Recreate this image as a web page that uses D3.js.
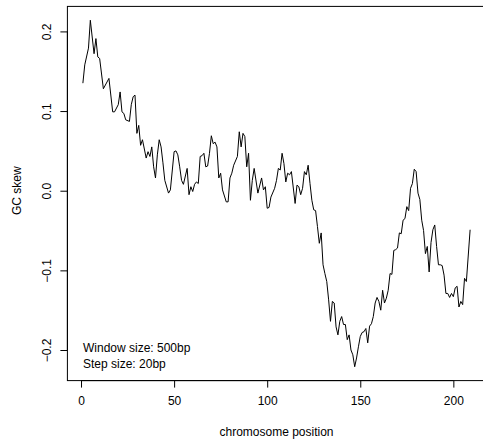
<!DOCTYPE html>
<html>
<head>
<meta charset="utf-8">
<script src="https://cdn.jsdelivr.net/npm/d3@7"></script>
<style>
  body { margin: 0; background: #fff; }
  text { font-family: "Liberation Sans", Arial, sans-serif; fill: #000; }
</style>
</head>
<body>
<svg id="skewSVG" width="483" height="444"></svg>
<script>
// Window positions
var positions = [1, 2, 4, 5, 7, 8, 9, 10, 12, 15, 17, 18, 20, 21, 22, 23, 24, 26, 27, 28,
  29, 30, 31, 32, 33, 35, 36, 37, 38, 39, 40, 41, 42, 43, 44, 45, 47, 48, 50, 51,
  52, 53, 54, 55, 57, 58, 59, 60, 61, 62, 63, 64, 65, 66, 67, 68, 69, 70, 71, 72,
  73, 74, 75, 76, 78, 79, 80, 81, 82, 84, 85, 86, 87, 88, 89, 90, 91, 92, 93, 95,
  97, 98, 99, 100, 101, 102, 104, 105, 106, 107, 108, 109, 110, 111, 112, 113, 115, 116, 117, 118,
  119, 120, 121, 122, 123, 124, 125, 126, 127, 128, 129, 130, 131, 132, 133, 134, 135, 136, 137, 138,
  139, 140, 141, 142, 143, 144, 145, 146, 147, 148, 149, 150, 151, 152, 153, 154, 155, 156, 157, 158,
  159, 160, 161, 162, 163, 164, 165, 166, 167, 168, 169, 170, 171, 172, 173, 174, 175, 176, 177, 178,
  179, 180, 181, 182, 183, 184, 185, 186, 187, 188, 189, 190, 191, 192, 193, 194, 195, 196, 197, 198,
  199, 200, 201, 202, 203, 204, 205, 206, 207, 209];

// GC skew at each position
var skew = [0.135, 0.158, 0.179, 0.214, 0.172, 0.191, 0.168, 0.166, 0.128, 0.141, 0.099, 0.099, 0.108, 0.124, 0.099, 0.097, 0.089, 0.087, 0.108, 0.118,
  0.120, 0.072, 0.082, 0.057, 0.064, 0.041, 0.049, 0.043, 0.055, 0.030, 0.016, 0.045, 0.064, 0.055, 0.035, 0.013, -0.003, 0.001, 0.049, 0.050,
  0.045, 0.030, 0.013, 0.008, 0.028, -0.005, 0.005, -0.001, 0.008, 0.011, 0.009, 0.043, 0.044, 0.047, 0.030, 0.031, 0.047, 0.069, 0.059, 0.061,
  0.055, 0.016, 0.022, 0.001, -0.014, -0.014, 0.016, 0.022, 0.032, 0.043, 0.074, 0.055, 0.072, 0.068, 0.030, 0.047, -0.012, 0.013, 0.028, -0.003,
  0.016, 0.001, 0.005, -0.022, -0.021, -0.008, 0.003, 0.013, 0.028, 0.026, 0.047, 0.034, 0.011, 0.022, 0.020, 0.024, -0.016, 0.007, 0.005, -0.005,
  0.003, 0.024, 0.020, 0.032, 0.009, -0.012, -0.024, -0.025, -0.045, -0.066, -0.053, -0.093, -0.104, -0.114, -0.137, -0.164, -0.139, -0.141, -0.171, -0.181,
  -0.164, -0.158, -0.168, -0.168, -0.187, -0.181, -0.200, -0.206, -0.221, -0.210, -0.196, -0.183, -0.178, -0.177, -0.173, -0.191, -0.170, -0.167, -0.158, -0.141,
  -0.134, -0.139, -0.150, -0.125, -0.141, -0.135, -0.125, -0.104, -0.105, -0.075, -0.074, -0.072, -0.053, -0.054, -0.037, -0.035, -0.020, -0.025, 0.003, 0.009,
  0.027, 0.024, -0.003, -0.011, -0.037, -0.050, -0.079, -0.070, -0.102, -0.065, -0.049, -0.043, -0.070, -0.093, -0.093, -0.094, -0.106, -0.129, -0.129, -0.134,
  -0.129, -0.133, -0.122, -0.120, -0.146, -0.139, -0.143, -0.110, -0.114, -0.049];

var xTicks = [0, 50, 100, 150, 200];
var yTicks = [-0.2, -0.1, 0.0, 0.1, 0.2];
var notes = ["Window size: 500bp", "Step size: 20bp"];

var svg = d3.select("#skewSVG");

// R style 4% padding around the data range
function padded(ext) {
    var r = ext[1] - ext[0];
    return [ext[0] - 0.04 * r, ext[1] + 0.04 * r];
}

var plotLeft = 67.4, plotRight = 485.6, plotTop = 6.4, plotBottom = 380.6;

var x = d3.scaleLinear()
    .domain(padded(d3.extent(positions)))
    .range([plotLeft, plotRight]);

var y = d3.scaleLinear()
    .domain(padded(d3.extent(skew)))
    .range([plotBottom, plotTop]);

// Box
svg.append("rect")
    .attr("x", plotLeft)
    .attr("y", plotTop)
    .attr("width", plotRight - plotLeft)
    .attr("height", plotBottom - plotTop)
    .attr("fill", "none")
    .attr("stroke", "#000")
    .attr("stroke-width", 1);

// X axis
var xAxis = svg.append("g")
    .attr("transform", "translate(0," + plotBottom + ")")
    .call(d3.axisBottom(x).tickValues(xTicks).tickSize(7).tickPadding(9).tickFormat(d3.format("d")));
xAxis.select(".domain").attr("d", "M" + x(xTicks[0]) + ",0H" + x(xTicks[xTicks.length - 1]));
xAxis.selectAll("text").style("font-size", "12px").style("font-family", "Liberation Sans, Arial, sans-serif");

// Y axis with rotated labels
var yAxis = svg.append("g")
    .attr("transform", "translate(" + plotLeft + ",0)")
    .call(d3.axisLeft(y).tickValues(yTicks).tickSize(7).tickFormat(d3.format(".1f")));
yAxis.select(".domain").attr("d", "M0," + y(yTicks[0]) + "V" + y(yTicks[yTicks.length - 1]));
yAxis.selectAll(".tick text")
    .attr("x", null).attr("dy", null)
    .attr("text-anchor", "middle")
    .attr("transform", "translate(-20.7,0) rotate(-90)")
    .attr("dy", "0.35em")
    .style("font-size", "12px")
    .style("font-family", "Liberation Sans, Arial, sans-serif")
    .text(function (d) { return d3.format(".1f")(d).replace("-", "\u2212"); });

// Axis titles
svg.append("text")
    .attr("x", (plotLeft + plotRight) / 2)
    .attr("y", 436)
    .attr("text-anchor", "middle")
    .style("font-size", "12px")
    .text("chromosome position");

svg.append("text")
    .attr("transform", "translate(21," + y(0) + ") rotate(-90)")
    .attr("text-anchor", "middle")
    .style("font-size", "12px")
    .text("GC skew");

// The skew line
var line = d3.line()
    .x(function (d, i) { return x(positions[i]); })
    .y(function (d) { return y(d); });

svg.append("path")
    .datum(skew)
    .attr("d", line)
    .attr("fill", "none")
    .attr("stroke", "#000")
    .attr("stroke-width", 1)
    .attr("stroke-linejoin", "round");

// Annotation
svg.selectAll(".note")
    .data(notes)
    .enter()
    .append("text")
    .attr("class", "note")
    .attr("x", 83)
    .attr("y", function (d, i) { return 351.5 + 16 * i; })
    .style("font-size", "12px")
    .text(function (d) { return d; });
</script>
</body>
</html>
